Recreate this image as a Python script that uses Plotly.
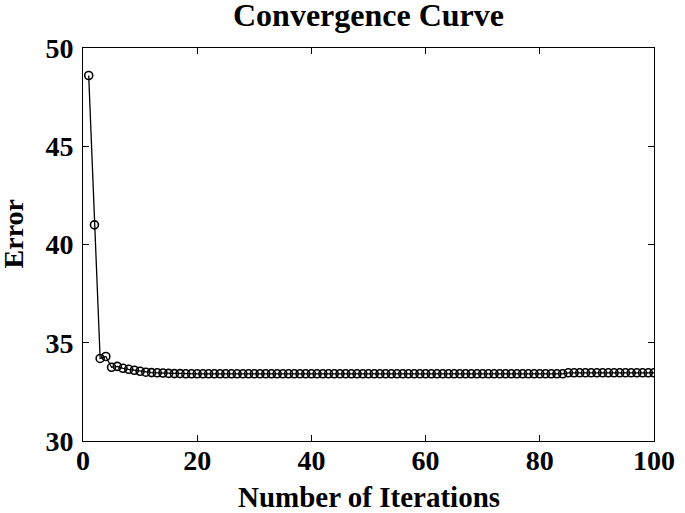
import plotly.graph_objects as go

iterations = list(range(1, 101))
error = [
    48.6, 41.0, 34.2, 34.3, 33.75, 33.8, 33.7, 33.65, 33.6, 33.55,
    33.5, 33.48, 33.47, 33.46, 33.44, 33.43, 33.43, 33.42, 33.42, 33.42,
    33.42, 33.42, 33.42, 33.42, 33.42, 33.42, 33.42, 33.42, 33.42, 33.42,
    33.42, 33.42, 33.42, 33.42, 33.42, 33.42, 33.42, 33.42, 33.42, 33.42,
    33.42, 33.42, 33.42, 33.42, 33.42, 33.42, 33.42, 33.42, 33.42, 33.42,
    33.42, 33.42, 33.42, 33.42, 33.42, 33.42, 33.42, 33.42, 33.42, 33.42,
    33.42, 33.42, 33.42, 33.42, 33.42, 33.42, 33.42, 33.42, 33.42, 33.42,
    33.42, 33.42, 33.42, 33.42, 33.42, 33.42, 33.42, 33.42, 33.42, 33.42,
    33.42, 33.42, 33.42, 33.42, 33.47, 33.47, 33.47, 33.47, 33.47, 33.47,
    33.47, 33.47, 33.47, 33.47, 33.47, 33.47, 33.47, 33.47, 33.47, 33.47,
]
x_ticks = [0, 20, 40, 60, 80, 100]
y_ticks = [30, 35, 40, 45, 50]

font_family = "Liberation Serif"

fig = go.Figure(
    go.Scatter(
        x=iterations,
        y=error,
        mode="lines+markers",
        line=dict(color="black", width=1.3),
        marker=dict(symbol="circle-open", size=8, color="black", line=dict(width=1.6)),
    )
)

fig.update_layout(
    width=685,
    height=513,
    margin=dict(l=83, r=31, t=48, b=72),
    paper_bgcolor="white",
    plot_bgcolor="white",
    showlegend=False,
    title=dict(
        text="<b>Convergence Curve</b>",
        x=0.5,
        xref="paper",
        xanchor="center",
        y=0.993,
        yref="container",
        yanchor="top",
        font=dict(family=font_family, size=32, color="black"),
    ),
    font=dict(family=font_family, color="black"),
    annotations=[
        dict(
            text="<b>Number of Iterations</b>",
            xref="paper", yref="paper",
            x=0.5, y=-0.1425,
            xanchor="center", yanchor="middle",
            showarrow=False,
            font=dict(family=font_family, size=29, color="black"),
        ),
        dict(
            text="<b>Error</b>",
            xref="paper", yref="paper",
            x=-0.121, y=0.528,
            xanchor="center", yanchor="middle",
            textangle=-90,
            showarrow=False,
            font=dict(family=font_family, size=28, color="black"),
        ),
    ],
)

fig.update_xaxes(
    range=[0, 100],
    tickvals=x_ticks,
    ticktext=[f"<b>{v}</b>" for v in x_ticks],
    ticks="inside",
    ticklen=6,
    tickwidth=1,
    tickcolor="black",
    showline=True,
    linecolor="black",
    linewidth=1,
    mirror="ticks",
    showgrid=False,
    zeroline=False,
    automargin=False,
    tickfont=dict(family=font_family, size=28, color="black"),
    ticklabelstandoff=-6,
)

fig.update_yaxes(
    range=[30, 50],
    tickvals=y_ticks,
    ticktext=[f"<b>{v}</b>" for v in y_ticks],
    ticks="inside",
    ticklen=6,
    tickwidth=1,
    tickcolor="black",
    showline=True,
    linecolor="black",
    linewidth=1,
    mirror="ticks",
    showgrid=False,
    zeroline=False,
    automargin=False,
    tickfont=dict(family=font_family, size=28, color="black"),
    ticklabelstandoff=3,
)

fig.write_html(
    "out.html",
    config={"displayModeBar": False},
    post_script="document.body.style.margin='0';",
)
